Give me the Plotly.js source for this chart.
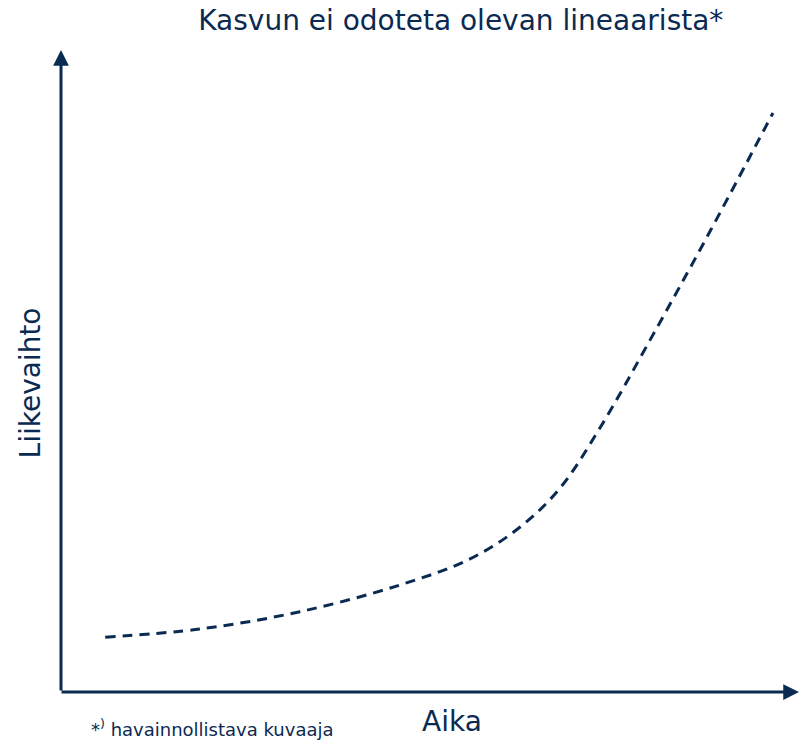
<!DOCTYPE html>
<html>
<head>
<meta charset="utf-8">
<script src="https://cdn.plot.ly/plotly-3.0.1.min.js"></script>
<style>
  html, body { margin: 0; padding: 0; background: #fff; }
  #chart { width: 800px; height: 741px; }
</style>
</head>
<body>
<div id="chart"></div>
<script>
// illustrative growth curve (0–100 on both axes)
const aika = [6.0, 18.9, 32.4, 46.0, 55.5, 62.3, 67.7, 73.1, 79.9, 88.1, 96.6];
const liikevaihto = [8.6, 9.9, 12.6, 16.8, 20.9, 25.9, 32.0, 41.4, 55.2, 72.4, 90.9];

const titleText = 'Kasvun ei odoteta olevan lineaarista*';
const xLabel = 'Aika';
const yLabel = 'Liikevaihto';
const footnote = '*<sup>)</sup> havainnollistava kuvaaja';

const NAVY = '#0b2a52';
const FONT = 'DejaVu Sans, Verdana, sans-serif';

const trace = {
  x: aika,
  y: liikevaihto,
  mode: 'lines',
  line: { color: NAVY, width: 3, dash: '10px,7px', shape: 'spline', smoothing: 1 },
  hoverinfo: 'skip'
};

const hiddenAxis = {
  range: [0, 100],
  showgrid: false,
  zeroline: false,
  showline: false,
  showticklabels: false,
  ticks: '',
  fixedrange: true
};

// axis arrows, in paper coords with pixel tails
const arrows = [
  { x: 0, y: (692 - 50) / 637, ax: 0, ay: 642 },
  { x: (799 - 61) / 737, y: 0, ax: -739, ay: 0 }
].map(a => ({
  xref: 'paper', yref: 'paper', axref: 'pixel', ayref: 'pixel',
  x: a.x, y: a.y, ax: a.ax, ay: a.ay, text: '',
  showarrow: true, arrowhead: 2, arrowsize: 1.05, arrowwidth: 3,
  arrowcolor: NAVY, standoff: 0, startstandoff: 0
}));

const labels = [
  { text: xLabel, x: 0.53, y: -0.047, size: 28, angle: 0, xanchor: 'center' },
  { text: yLabel, x: -0.0415, y: 0.485, size: 28, angle: -90, xanchor: 'center' },
  { text: footnote, x: 0.038, y: -0.056, size: 18, angle: 0, xanchor: 'left' }
].map(l => ({
  xref: 'paper', yref: 'paper', x: l.x, y: l.y,
  xanchor: l.xanchor, yanchor: 'middle',
  text: l.text, textangle: l.angle, showarrow: false,
  font: { family: FONT, size: l.size, color: NAVY }
}));

const layout = {
  width: 800,
  height: 741,
  margin: { l: 61, r: 2, t: 55, b: 49 },
  paper_bgcolor: '#ffffff',
  plot_bgcolor: '#ffffff',
  showlegend: false,
  title: {
    text: titleText,
    font: { family: FONT, size: 28, color: NAVY },
    xref: 'container', x: 0.576, xanchor: 'center',
    yref: 'container', y: 0.973, yanchor: 'middle'
  },
  xaxis: hiddenAxis,
  yaxis: hiddenAxis,
  annotations: arrows.concat(labels)
};

Plotly.newPlot('chart', [trace], layout, { displayModeBar: false, staticPlot: true });
</script>
</body>
</html>
